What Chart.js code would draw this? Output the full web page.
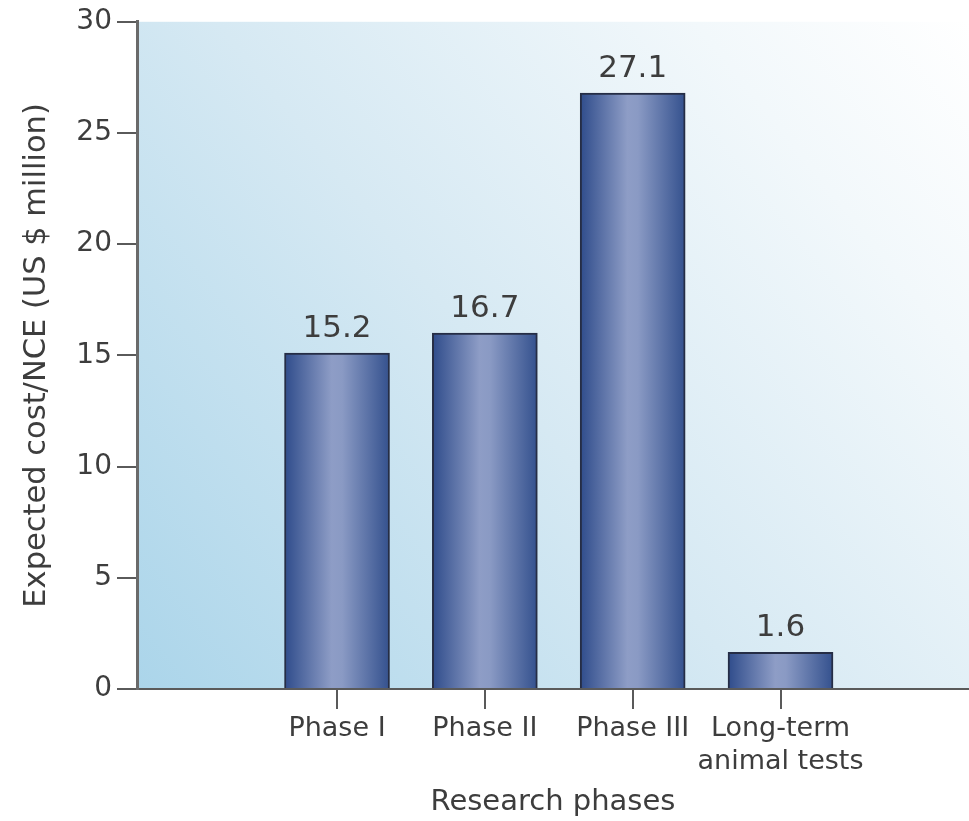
<!DOCTYPE html>
<html>
<head>
<meta charset="utf-8">
<script src="https://cdn.jsdelivr.net/npm/chart.js@4.4.1/dist/chart.umd.min.js"></script>
<style>
  html, body { margin: 0; padding: 0; background: #ffffff; }
  #wrap { width: 969px; height: 821px; position: relative; }
</style>
</head>
<body>
<div id="wrap"><canvas id="c" width="969" height="821"></canvas></div>
<script>
// ---- data ----
const categories = ['Phase I', 'Phase II', 'Phase III', 'Long-term animal tests'];
const tickLabels = [['Phase I'], ['Phase II'], ['Phase III'], ['Long-term', 'animal tests']];
const barHeights = [15.1, 16.0, 26.8, 1.65];      // bar tops as drawn
const valueLabels = ['15.2', '16.7', '27.1', '1.6']; // numbers printed above bars
const yTicks = [0, 5, 10, 15, 20, 25, 30];
const yTitle = 'Expected cost/NCE (US $ million)';
const xTitle = 'Research phases';

const FONT = 'DejaVu Sans';
const TEXT = '#3d3d3d';
const AXIS = '#5a5a5a';
const BAR_W = 105;

const bgPlugin = {
  id: 'bg',
  beforeDraw(chart) {
    const { ctx, chartArea: a } = chart;
    const g = ctx.createLinearGradient(a.left, a.bottom, a.right, a.top);
    g.addColorStop(0, '#abd5ea');
    g.addColorStop(0.45, '#d6e9f3');
    g.addColorStop(0.8, '#f2f8fb');
    g.addColorStop(1, '#ffffff');
    ctx.save();
    ctx.fillStyle = g;
    ctx.fillRect(a.left, a.top, a.right - a.left, a.bottom - a.top);
    ctx.restore();
  }
};

const valuePlugin = {
  id: 'values',
  afterDatasetsDraw(chart) {
    const { ctx } = chart;
    const meta = chart.getDatasetMeta(0);
    ctx.save();
    ctx.font = '31px "' + FONT + '"';
    ctx.fillStyle = TEXT;
    ctx.textAlign = 'center';
    ctx.textBaseline = 'alphabetic';
    meta.data.forEach((el, i) => {
      ctx.fillText(valueLabels[i], el.x, el.y - 16);
    });
    ctx.restore();
  }
};

function barGradient(context) {
  const chart = context.chart;
  const xs = chart.scales && chart.scales.x;
  if (!chart.chartArea || !xs || !context.raw) return '#6a7fb3';
  const cx = xs.getPixelForValue(context.raw.x);
  const half = BAR_W / 2;
  const g = chart.ctx.createLinearGradient(cx - half, 0, cx + half, 0);
  g.addColorStop(0, '#2f4c8b');
  g.addColorStop(0.45, '#8e9dc6');
  g.addColorStop(0.55, '#8a9ac4');
  g.addColorStop(1, '#34518e');
  return g;
}

const data = {
  datasets: [{
    data: barHeights.map((v, i) => ({ x: i + 1, y: v })),
    backgroundColor: barGradient,
    borderColor: '#252d45',
    borderWidth: 2,
    borderSkipped: 'bottom',
    barThickness: BAR_W
  }]
};

new Chart(document.getElementById('c'), {
  type: 'bar',
  data,
  plugins: [bgPlugin, valuePlugin],
  options: {
    responsive: false,
    animation: false,
    layout: { padding: { top: 16, right: 0, left: 0, bottom: 0 } },
    plugins: { legend: { display: false }, tooltip: { enabled: false } },
    scales: {
      x: {
        type: 'linear',
        offset: false,
        min: -0.353,
        max: 5.275,
        afterBuildTicks(scale) { scale.ticks = categories.map((c, i) => ({ value: i + 1 })); },
        afterFit(scale) { scale.height = 132; },
        ticks: {
          autoSkip: false,
          maxRotation: 0,
          padding: 4,
          color: TEXT,
          font: { family: FONT, size: 27, lineHeight: 1.22 },
          callback(v) { const i = Math.round(v) - 1; return tickLabels[i] || ''; }
        },
        grid: { drawOnChartArea: false, drawTicks: true, tickLength: 20, color: AXIS, lineWidth: 2, offset: false },
        border: { display: true, color: AXIS, width: 2 },
        title: {
          display: true, text: xTitle, color: TEXT,
          font: { family: FONT, size: 29, lineHeight: 1.2 },
          padding: { top: 0, bottom: 1 }
        }
      },
      y: {
        min: 0,
        max: 30,
        afterBuildTicks(scale) { scale.ticks = yTicks.map(v => ({ value: v })); },
        afterFit(scale) { scale.width = 137; },
        ticks: { padding: 5, color: TEXT, font: { family: FONT, size: 28 } },
        grid: { drawOnChartArea: false, drawTicks: true, tickLength: 20, color: AXIS, lineWidth: 2 },
        border: { display: true, color: '#6a6a6a', width: 3 },
        title: {
          display: true, text: yTitle, color: TEXT,
          font: { family: FONT, size: 30.5, lineHeight: 1.2 },
          padding: { top: 19, bottom: 0 }
        }
      }
    }
  }
});
</script>
</body>
</html>
